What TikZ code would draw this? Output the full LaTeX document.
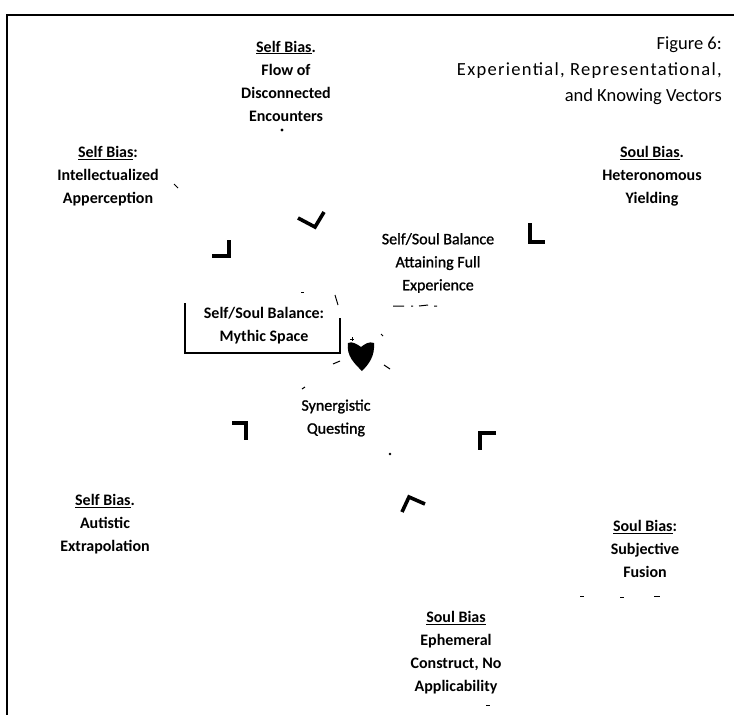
\documentclass[tikz,border=0pt]{standalone}
\usepackage{fontspec}
\setmainfont{Carlito}
\begin{document}
\begin{tikzpicture}[x=1pt,y=-1pt,
  lbl/.style={align=center,font=\bfseries\fontsize{16}{23}\selectfont,inner sep=0pt},
  mid/.style={align=center,font=\addfontfeature{FakeBold=1.2}\fontsize{16}{23}\selectfont,inner sep=0pt},
  chev/.style={line width=3.6pt,line join=miter,line cap=butt},
  speck/.style={line width=1pt}]
\useasboundingbox (0,0) rectangle (734,715);
% frame
\draw[line width=1.6pt] (7,715) -- (7,15) -- (734,15);
% title
\node[anchor=east,align=right,inner sep=0pt,font=\fontsize{18.5}{26}\selectfont] (title) at (722,71)
  {Figure 6:\\{\addfontfeature{LetterSpace=7}Experiential, Representational,}\\and Knowing Vectors};
% outer nodes
\node[lbl] (top) at (286,81) {\underline{Self Bias}.\\Flow of\\Disconnected\\Encounters};
\node[lbl] (lt) at (108,176) {\underline{Self Bias}:\\Intellectualized\\Apperception};
\node[lbl] (rt) at (652,176) {\underline{Soul Bias}.\\Heteronomous\\Yielding};
\node[lbl] (lb) at (105,524) {\underline{Self Bias}.\\Autistic\\Extrapolation};
\node[lbl] (rb) at (645,549) {\underline{Soul Bias}:\\Subjective\\Fusion};
\node[lbl] (bot) at (456,653) {\underline{Soul Bias}\\Ephemeral\\Construct, No\\Applicability};
% inner nodes
\node[mid] (full) at (438,263) {Self/Soul Balance\\Attaining Full\\Experience};
\node[lbl] (myth) at (264,326) {Self/Soul Balance:\\Mythic Space};
\node[mid] (syn) at (336,418) {Synergistic\\Questing};
% box around mythic space (partially visible)
\draw[line width=1.3pt] (185,303) -- (185,353) -- (340,353) -- (340,318);
% central blob
\fill (348,343) .. controls (352,341) and (357,344) .. (361,347)
  .. controls (365,344) and (369,341) .. (374,343)
  .. controls (375,356) and (369,364) .. (362,371)
  .. controls (355,364) and (346,356) .. (348,343) -- cycle;
% arrowheads
\draw[chev] (298,218) -- (315,227) -- (324,212);
\draw[chev] (212,256) -- (229,256) -- (229,240);
\draw[chev] (530,223) -- (530,242) -- (545,242);
\draw[chev] (232,423) -- (246,423) -- (246,440);
\draw[chev] (496,433) -- (480,433) -- (480,450);
\draw[chev] (402,512) -- (409,497) -- (425,504);
% specks (remnants)
\fill (282,130) circle (1.6);
\draw[speck] (174,184) -- (178,188);
\draw[speck] (301,292) -- (304,292);
\draw[speck] (335,295) -- (338,305);
\draw[speck] (350,339) -- (354,339) (352,337) -- (352,341);
\draw[speck] (381,334) -- (383,336);
\draw[speck] (333,364) -- (340,361);
\draw[speck] (384,365) -- (390,369);
\draw[speck] (302,389) -- (305,387);
\draw[speck] (393,306) -- (404,306) (411,306) -- (413,306) (419,306) -- (428,305) (434,306) -- (437,306);
\fill (390,454) circle (1.4);
\draw[speck] (580,596) -- (584,596) (620,597) -- (624,597) (654,596) -- (660,596);
\draw[speck] (486,705) -- (490,705);
\end{tikzpicture}
\end{document}
